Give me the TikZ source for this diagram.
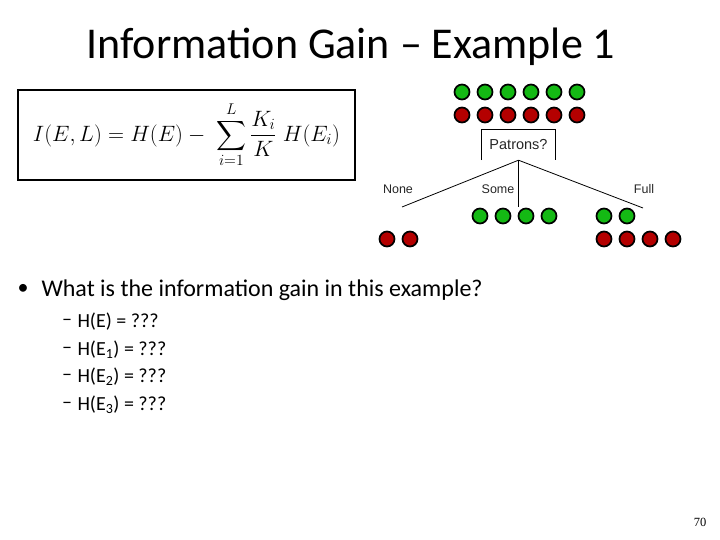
\documentclass[tikz,border=0pt]{standalone}
\usepackage{fix-cm}
\usepackage{amsmath}
\usepackage{fontspec}
\setmainfont{Carlito}
\newfontfamily\arialfont{Liberation Sans}
\newfontfamily\timesfont{Liberation Serif}
\usetikzlibrary{positioning}

\definecolor{ballgreen}{RGB}{20,185,20}
\definecolor{ballred}{RGB}{180,0,0}

\tikzset{
  ball/.style={draw=black, line width=1.7pt, circle, minimum size=15pt, inner sep=0pt},
  gball/.style={ball, fill=ballgreen},
  rball/.style={ball, fill=ballred},
  branch/.style={line width=0.8pt},
  lbl/.style={font=\arialfont\fontsize{12.5}{15}\selectfont, text=black!85},
  item/.style={font=\fontsize{20}{24}\selectfont},
}

\begin{document}
\begin{tikzpicture}[x=1pt, y=-1pt]
  \useasboundingbox (0,0) rectangle (720,540);

  % Title
  \node[anchor=west, font=\fontsize{44}{52}\selectfont] (title) at (83,47) {Information Gain -- Example 1};

  % Formula box
  \node[draw, line width=2pt, minimum width=337pt, minimum height=90pt, inner sep=0pt, font=\fontsize{22.2}{26}\selectfont] (formula) at (186.5,135)
    {$I(E,L) = H(E) - \;\displaystyle\sum_{i=1}^{L} \frac{K_i}{K}\; H(E_i)$};

  % Examples before the split
  \foreach \i in {0,...,5} {
    \node[gball] (top-g-\i) at (462+23*\i, 92) {};
    \node[rball] (top-r-\i) at (462+23*\i, 115) {};
  }

  % Attribute box, open at the bottom
  \node[lbl, font=\arialfont\fontsize{14.5}{17}\selectfont, minimum width=73pt, minimum height=30pt] (patrons) at (518.5,145) {Patrons?};
  \draw[branch] (patrons.south west) -- (patrons.north west) -- (patrons.north east) -- (patrons.south east);

  % Branches
  \coordinate (none-end) at (402,207);
  \coordinate (some-end) at (518.5,207);
  \coordinate (full-end) at (643,208);
  \draw[branch] (patrons.south) -- (none-end);
  \draw[branch] (patrons.south) -- (some-end);
  \draw[branch] (patrons.south) -- (full-end);

  % Branch labels
  \node[lbl] (none) at (398,189) {None};
  \node[lbl] (some) at (498,189) {Some};
  \node[lbl] (full) at (644,189) {Full};

  % Examples after the split
  \foreach \i in {0,1} {
    \node[rball] (none-r-\i) at (387+23*\i, 239) {};
    \node[gball] (full-g-\i) at (604+23*\i, 216) {};
  }
  \foreach \i in {0,...,3} {
    \node[gball] (some-g-\i) at (480+23*\i, 216) {};
    \node[rball] (full-r-\i) at (604+23*\i, 239) {};
  }

  % Question
  \node[font=\fontsize{22}{26}\selectfont] (bullet) at (23,289) {\textbullet};
  \node[anchor=west, font=\fontsize{24}{28}\selectfont] (question) at (38,290) {What is the information gain in this example?};

  % Sub items
  \foreach \y/\txt [count=\k] in {322/{H(E) = ???}, 350/{H(E\textsubscript{1}) = ???}, 377/{H(E\textsubscript{2}) = ???}, 405/{H(E\textsubscript{3}) = ???}} {
    \node[item] (dash-\k) at (67,\y) {--};
    \node[item, anchor=west] (sub-\k) at (74,\y) {\txt};
  }

  % Slide number
  \node[font=\timesfont\fontsize{12.5}{15}\selectfont] (page) at (700,522) {70};
\end{tikzpicture}
\end{document}
